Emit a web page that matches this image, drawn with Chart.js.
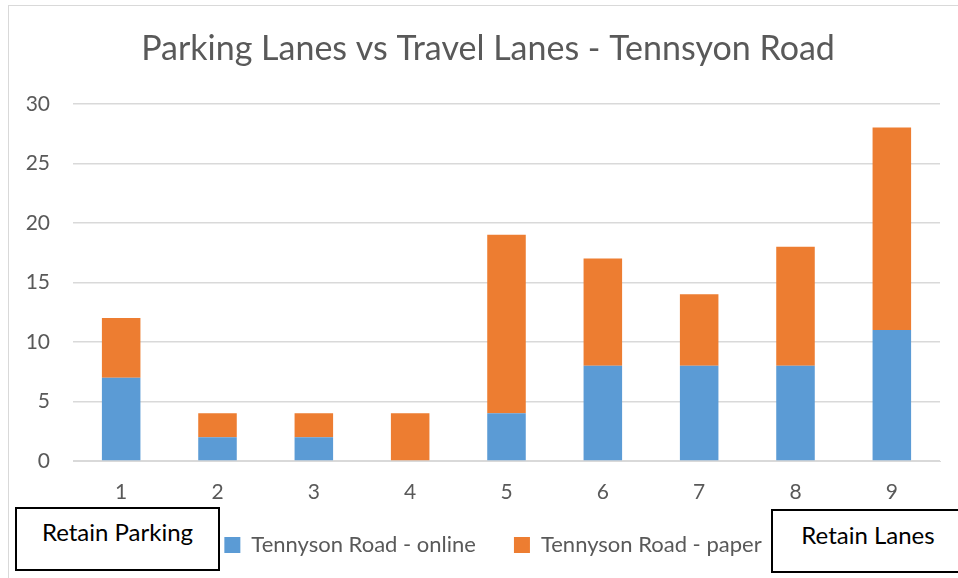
<!DOCTYPE html>
<html>
<head>
<meta charset="utf-8">
<script src="https://cdn.jsdelivr.net/npm/chart.js@4/dist/chart.umd.min.js"></script>
<style>
  html, body { margin:0; padding:0; background:#fff; }
  #wrap { position:relative; width:958px; height:578px; overflow:hidden; }
  #frame { position:absolute; left:8px; top:5px; width:1000px; height:700px; border:1px solid #d9d9d9; box-sizing:border-box; pointer-events:none; }
  canvas { position:absolute; left:0; top:0; }
  .note { position:absolute; border:2px solid #000; background:#fff; box-sizing:border-box;
          font-family: Lato, "Open Sans", sans-serif; font-size:24px; color:#000; text-align:center; }
</style>
</head>
<body>
<div id="wrap">
  <div id="frame"></div>
  <canvas id="c" width="958" height="578"></canvas>
  <div class="note" style="left:15px; top:507px; width:205px; height:64px; line-height:46px;">Retain Parking</div>
  <div class="note" style="left:771px; top:509px; width:200px; height:64px; line-height:48px; padding-right:6px;">Retain Lanes</div>
</div>
<script>
const categories = ["1","2","3","4","5","6","7","8","9"];
const onlineValues = [7, 2, 2, 0, 4, 8, 8, 8, 11];
const paperValues  = [5, 2, 2, 4, 15, 9, 6, 10, 17];
const seriesNames = ["Tennyson Road - online", "Tennyson Road - paper"];
const chartTitle = "Parking Lanes vs Travel Lanes - Tennsyon Road";

const FONT = 'Lato, "Open Sans", sans-serif';
const TXT = '#595959';

const shiftBlocks = {
  id: 'shiftBlocks',
  beforeDraw(chart) {
    const lg = chart.legend;
    if (lg) { lg.left += 23; lg.right += 23; lg.top -= 9; lg.bottom -= 9; }
    const tb = chart.titleBlock;
    if (tb) { tb.left += 18; tb.right += 18; }
  }
};

new Chart(document.getElementById('c'), {
  type: 'bar',
  data: {
    labels: categories,
    datasets: [
      { label: seriesNames[0], data: onlineValues, backgroundColor: '#5B9BD5', borderWidth: 0,
        barPercentage: 0.4, categoryPercentage: 1.0 },
      { label: seriesNames[1], data: paperValues, backgroundColor: '#ED7D31', borderWidth: 0,
        barPercentage: 0.4, categoryPercentage: 1.0 }
    ]
  },
  plugins: [shiftBlocks],
  options: {
    responsive: false,
    animation: false,
    layout: { padding: { left: 0, right: 18, top: 0, bottom: 3 } },
    plugins: {
      title: { display: true, text: chartTitle, color: TXT,
               font: { family: FONT, size: 34, weight: 'normal' }, padding: { top: 29, bottom: 34 } },
      legend: { position: 'bottom',
                labels: { color: TXT, font: { family: FONT, size: 22 }, boxWidth: 16, boxHeight: 16, padding: 38 } },
      tooltip: { enabled: false }
    },
    scales: {
      x: { stacked: true,
           grid: { display: false },
           border: { color: '#d9d9d9', width: 1 },
           ticks: { color: TXT, font: { family: FONT, size: 21 }, padding: 11 },
           afterFit: (s) => { s.height = 44; } },
      y: { stacked: true, min: 0, max: 30,
           grid: { color: '#d9d9d9', lineWidth: 1.5, drawTicks: false },
           border: { display: false },
           ticks: { stepSize: 5, color: TXT, font: { family: FONT, size: 21 }, padding: 23 },
           afterFit: (s) => { s.width = 73; } }
    }
  }
});
</script>
</body>
</html>
